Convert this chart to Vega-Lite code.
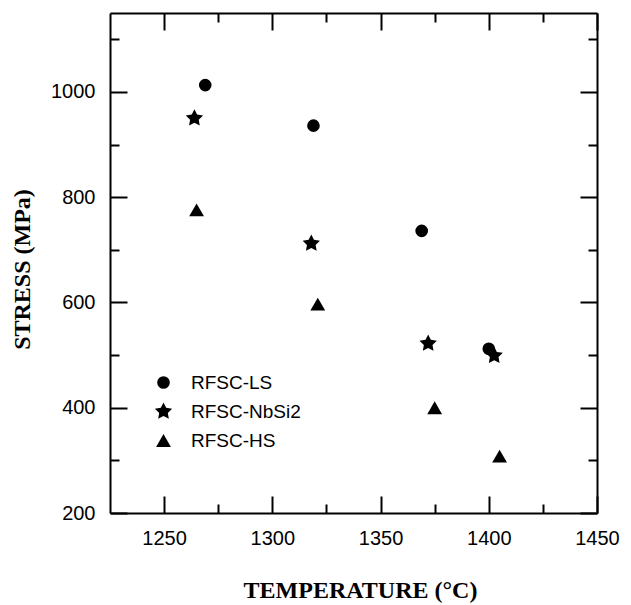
{
  "$schema": "https://vega.github.io/schema/vega-lite/v6.json",
  "width": 487,
  "height": 500,
  "autosize": {"type": "none"},
  "padding": {"left": 110, "top": 13, "right": 34, "bottom": 92},
  "background": "white",
  "config": {
    "view": {"stroke": null},
    "axis": {
      "grid": false,
      "domainColor": "black",
      "domainWidth": 2,
      "tickColor": "black",
      "tickWidth": 2,
      "labelColor": "black",
      "titleColor": "black",
      "labelFont": "Liberation Sans",
      "labelFontSize": 20,
      "titleFont": "Liberation Serif",
      "titleFontSize": 24,
      "titleFontWeight": "bold"
    }
  },
  "layer": [
    {
      "data": {
        "values": [
          {"series": "RFSC-LS", "temperature": 1269, "stress": 1013},
          {"series": "RFSC-LS", "temperature": 1319, "stress": 936},
          {"series": "RFSC-LS", "temperature": 1369, "stress": 736},
          {"series": "RFSC-LS", "temperature": 1400, "stress": 512},
          {"series": "RFSC-NbSi2", "temperature": 1264, "stress": 950},
          {"series": "RFSC-NbSi2", "temperature": 1318, "stress": 712},
          {"series": "RFSC-NbSi2", "temperature": 1372, "stress": 522},
          {"series": "RFSC-NbSi2", "temperature": 1402.5, "stress": 499},
          {"series": "RFSC-HS", "temperature": 1265, "stress": 776},
          {"series": "RFSC-HS", "temperature": 1321, "stress": 597},
          {"series": "RFSC-HS", "temperature": 1375, "stress": 400},
          {"series": "RFSC-HS", "temperature": 1405, "stress": 308}
        ]
      },
      "mark": {"type": "point", "filled": true, "fill": "black", "opacity": 1, "strokeWidth": 0},
      "encoding": {
        "x": {
          "field": "temperature",
          "type": "quantitative",
          "scale": {"domain": [1225, 1450], "nice": false, "zero": false},
          "axis": {
            "orient": "bottom",
            "values": [1250, 1275, 1300, 1325, 1350, 1375, 1400, 1425, 1450],
            "format": "d",
            "labelExpr": "datum.value % 50 === 0 ? datum.label : ''",
            "tickSize": {"condition": {"test": "datum.value % 50 === 0", "value": -17}, "value": -9},
            "labelPadding": 32,
            "labelFlush": false,
            "labelOverlap": false,
            "title": "TEMPERATURE (°C)",
            "titleX": 250,
            "titleY": 84,
            "titleAlign": "center",
            "titleBaseline": "alphabetic"
          }
        },
        "y": {
          "field": "stress",
          "type": "quantitative",
          "scale": {"domain": [200, 1150], "nice": false, "zero": false},
          "axis": {
            "orient": "left",
            "values": [200, 300, 400, 500, 600, 700, 800, 900, 1000, 1100],
            "format": "d",
            "labelExpr": "datum.value % 200 === 0 ? datum.label : ''",
            "tickSize": {"condition": {"test": "datum.value % 200 === 0", "value": -17}, "value": -9},
            "labelPadding": 32,
            "labelFlush": false,
            "labelOverlap": false,
            "title": "STRESS (MPa)",
            "titleAngle": 270,
            "titleX": -81,
            "titleY": 256,
            "titleAlign": "center",
            "titleBaseline": "alphabetic"
          }
        },
        "shape": {
          "field": "series",
          "type": "nominal",
          "scale": {
            "domain": ["RFSC-LS", "RFSC-NbSi2", "RFSC-HS"],
            "range": ["circle", "M0,-1L0.294,-0.405L0.951,-0.309L0.476,0.155L0.588,0.809L0,0.5L-0.588,0.809L-0.476,0.155L-0.951,-0.309L-0.294,-0.405Z", "triangle-up"]
          },
          "legend": {
            "orient": "none",
            "legendX": 44,
            "legendY": 360,
            "title": null,
            "padding": 0,
            "labelFont": "Liberation Sans",
            "labelFontSize": 19,
            "labelColor": "black",
            "labelOffset": 18,
            "rowPadding": 9,
            "symbolFillColor": "black",
            "symbolStrokeWidth": 0,
            "symbolOpacity": 1
          }
        },
        "size": {
          "field": "series",
          "type": "nominal",
          "scale": {"type": "ordinal", "domain": ["RFSC-LS", "RFSC-NbSi2", "RFSC-HS"], "range": [160, 330, 220]},
          "legend": {
            "orient": "none",
            "legendX": 44,
            "legendY": 360,
            "title": null,
            "padding": 0,
            "labelFont": "Liberation Sans",
            "labelFontSize": 19,
            "labelColor": "black",
            "labelOffset": 18,
            "rowPadding": 9,
            "symbolFillColor": "black",
            "symbolStrokeWidth": 0,
            "symbolOpacity": 1
          }
        }
      }
    },
    {
      "data": {"values": []},
      "mark": {"type": "point", "opacity": 0},
      "encoding": {
        "x": {
          "field": "temperature",
          "type": "quantitative",
          "axis": {
            "orient": "top",
            "values": [1250, 1275, 1300, 1325, 1350, 1375, 1400, 1425, 1450],
            "labels": false,
            "title": null,
            "tickSize": {"condition": {"test": "datum.value % 50 === 0", "value": -17}, "value": -9}
          }
        },
        "y": {
          "field": "stress",
          "type": "quantitative",
          "axis": {
            "orient": "right",
            "values": [200, 300, 400, 500, 600, 700, 800, 900, 1000, 1100],
            "labels": false,
            "title": null,
            "tickSize": {"condition": {"test": "datum.value % 200 === 0", "value": -17}, "value": -9}
          }
        }
      }
    }
  ],
  "resolve": {"axis": {"x": "independent", "y": "independent"}}
}
